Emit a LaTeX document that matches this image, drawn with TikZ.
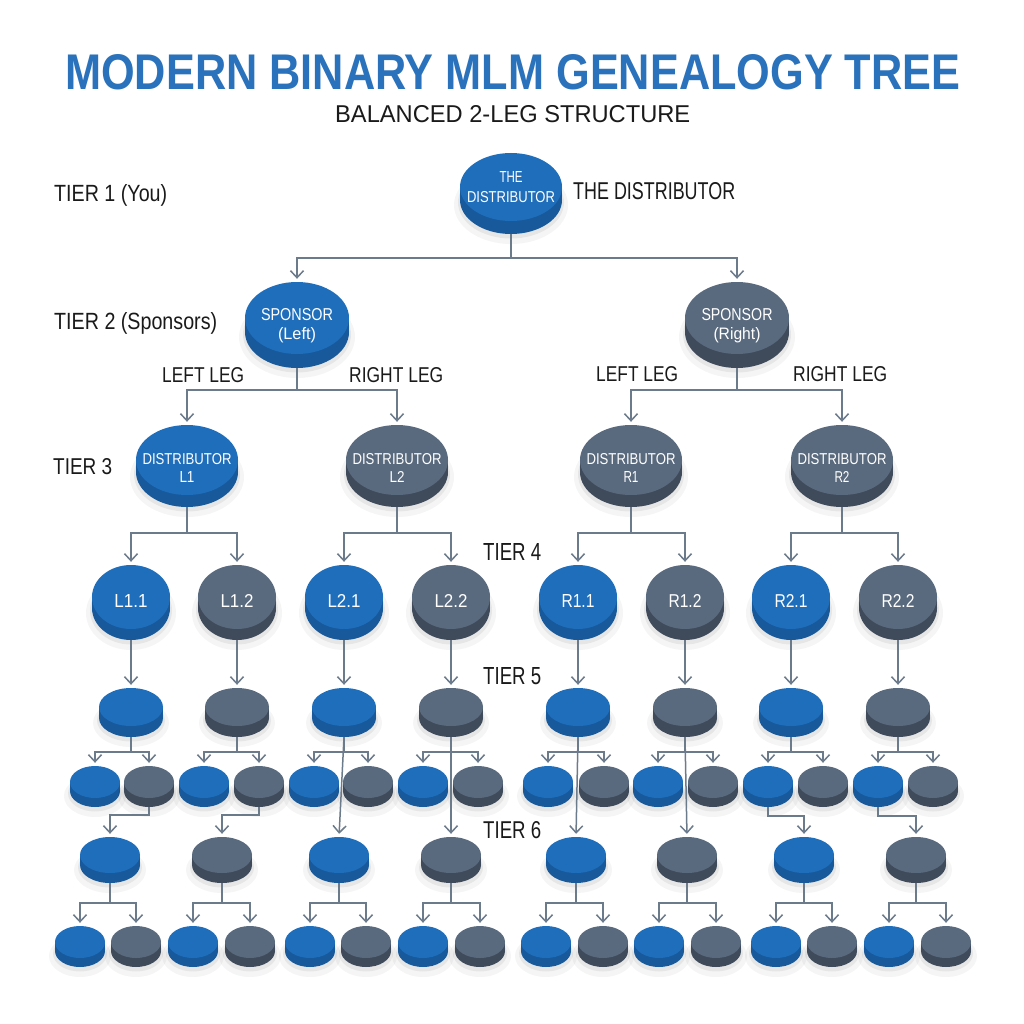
\documentclass[tikz,border=0pt]{standalone}
\usepackage{graphicx}
\usepackage{fontspec}
\setmainfont{Liberation Sans}
\usetikzlibrary{arrows.meta,shapes.geometric}
\definecolor{bT}{HTML}{1F6EBC}
\definecolor{bS}{HTML}{17599B}
\definecolor{gT}{HTML}{5A6A7E}
\definecolor{gS}{HTML}{3F4B5B}
\definecolor{titleC}{HTML}{2A72BB}
\definecolor{inkC}{HTML}{1A1A1A}
\definecolor{lineC}{HTML}{6C7B8B}
\newcommand\fitt[3]{\resizebox{#1pt}{#2pt}{#3}}
\newcommand\disc[7]{%
  \colorlet{curS}{#7S}\colorlet{curT}{#7T}%
  \fill[black,opacity=0.04] (#2,#3+#6+5) ellipse ({#4+6} and {#5+5});
  \fill[black,opacity=0.06] (#2,#3+#6+2.5) ellipse ({#4+2} and {#5+2});
  \fill[curS] (#2-#4,#3) rectangle (#2+#4,#3+#6);
  \fill[curS] (#2,#3+#6) ellipse ({#4} and {#5});
  \node[discnode,fill=curT,minimum width={2*#4pt},minimum height={2*#5pt}] (#1) at (#2,#3) {};
  \coordinate (#1-b) at (#2,#3+#5+#6);
}
\newcommand\fork[4]{%
  \draw[conn] (#1-b) -- (#1-b |- 0,#2) -| (#3.north);
  \draw[conn] (#1-b) -- (#1-b |- 0,#2) -| (#4.north);
}
\tikzset{
  discnode/.style={ellipse,inner sep=0pt,draw=none},
  conn/.style={draw=lineC,line width=1.5pt,-{Straight Barb[length=7pt,width=13pt]},shorten >=3pt},
  wtext/.style={text=white,inner sep=0pt,align=center},
  ktext/.style={text=inkC,inner sep=0pt,anchor=base west},
}
\begin{document}
\begin{tikzpicture}[x=1pt,y=-1pt]
\useasboundingbox (0,0) rectangle (1024,1024);
\fill[white] (0,0) rectangle (1024,1024);

% titles
\node[ktext,text=titleC] (title) at (65,90) {\fitt{895}{35}{\bfseries MODERN BINARY MLM GENEALOGY TREE}};
\node[ktext] (subtitle) at (335,123) {\fitt{355}{17}{BALANCED 2-LEG STRUCTURE}};

% tier labels
\node[ktext] (lab1) at (54,202) {\fitt{113}{17}{TIER 1 (You)}};
\node[ktext] (lab2) at (54,329) {\fitt{163}{17}{TIER 2 (Sponsors)}};
\node[ktext] (lab3) at (53,474) {\fitt{59}{16}{TIER 3}};
\node[ktext] (lab4) at (483,560) {\fitt{58}{17}{TIER 4}};
\node[ktext] (lab5) at (483,684) {\fitt{58}{17}{TIER 5}};
\node[ktext] (lab6) at (483,838) {\fitt{58}{17}{TIER 6}};
\node[ktext] (labd) at (573,200) {\fitt{162}{17}{THE DISTRIBUTOR}};
\node[ktext] (ll1) at (162,382) {\fitt{82}{15}{LEFT LEG}};
\node[ktext] (rl1) at (349,382) {\fitt{94}{15}{RIGHT LEG}};
\node[ktext] (ll2) at (596,381) {\fitt{82}{15}{LEFT LEG}};
\node[ktext] (rl2) at (793,381) {\fitt{94}{15}{RIGHT LEG}};

% tier 1
\disc{t1}{511}{187}{51}{34}{13}{b}
\node[wtext,font=\fontsize{10pt}{20pt}\selectfont] (t1-t) at (511,187.5) {\fitt{23}{11}{THE}\\\fitt{88}{11}{DISTRIBUTOR}};

% tier 2
\disc{t2l}{297}{318}{52}{36}{14}{b}
\node[wtext,font=\fontsize{10pt}{19pt}\selectfont] (t2l-t) at (297,326) {\fitt{72}{12}{SPONSOR}\\\fitt{38}{12}{(Left)}};
\disc{t2r}{737}{318}{52}{36}{14}{g}
\node[wtext,font=\fontsize{10pt}{19pt}\selectfont] (t2r-t) at (737,326) {\fitt{71}{12}{SPONSOR}\\\fitt{47}{12}{(Right)}};

% tier 3
\foreach \n/\x/\c/\t in {a/187/b/L1, b/397/g/L2, c/631/g/R1, d/842/g/R2}{
  \disc{t3\n}{\x}{460}{51}{35}{12}{\c}
  \node[wtext,font=\fontsize{10pt}{18pt}\selectfont] (t3\n-t) at (\x,467.5) {\fitt{89}{11}{DISTRIBUTOR}\\\fitt{15}{11}{\t}};
}

% tier 4
\foreach \n/\x/\c/\t in {a/131/b/L1.1, b/237/g/L1.2, c/344/b/L2.1, d/451/g/L2.2, e/578/b/R1.1, f/685/g/R1.2, g/791/b/R2.1, h/898/g/R2.2}{
  \disc{t4\n}{\x}{597}{39}{32}{11}{\c}
  \node[wtext,anchor=base] (t4\n-t) at (\x,607) {\fitt{33}{13}{\t}};
}

% tier 5
\foreach \n/\x/\c in {a/131/b, b/237/g, c/344/b, d/451/g, e/578/b, f/685/g, g/791/b, h/898/g}{
  \disc{t5\n}{\x}{707}{32}{19}{11}{\c}
}

% tier 5 children (pairs)
\foreach \i/\x/\c in {1/95/b, 2/149/g, 3/204/b, 4/259/g, 5/314/b, 6/368/g, 7/423/b, 8/478/g, 9/548/b, 10/604/g, 11/658/b, 12/713/g, 13/768/b, 14/823/g, 15/878/b, 16/933/g}{
  \disc{p\i}{\x}{782}{25}{16}{9}{\c}
}

% tier 6
\foreach \n/\x/\c in {a/110/b, b/222/g, c/339/b, d/451/g, e/576/b, f/687/g, g/804/b, h/916/g}{
  \disc{t6\n}{\x}{855}{30}{18}{10}{\c}
}

% tier 6 children
\foreach \i/\x/\c in {1/80/b, 2/136/g, 3/193/b, 4/250/g, 5/310/b, 6/366/g, 7/423/b, 8/480/g, 9/546/b, 10/603/g, 11/659/b, 12/716/g, 13/776/b, 14/832/g, 15/889/b, 16/946/g}{
  \disc{q\i}{\x}{942}{25}{16}{9}{\c}
}

% connectors
\fork{t1}{258}{t2l}{t2r}
\fork{t2l}{390}{t3a}{t3b}
\fork{t2r}{390}{t3c}{t3d}
\fork{t3a}{533}{t4a}{t4b}
\fork{t3b}{533}{t4c}{t4d}
\fork{t3c}{533}{t4e}{t4f}
\fork{t3d}{533}{t4g}{t4h}
\foreach \n in {a,b,c,d,e,f,g,h}{ \draw[conn] (t4\n-b) -- (t5\n.north); }
\foreach \n/\i/\j in {a/1/2, b/3/4, c/5/6, d/7/8, e/9/10, f/11/12, g/13/14, h/15/16}{
  \fork{t5\n}{752}{p\i}{p\j}
}
\draw[conn] (p2-b) -- (p2-b |- 0,815) -| (t6a.north);
\draw[conn] (p4-b) -- (p4-b |- 0,815) -| (t6b.north);
\draw[conn] (t5c-b) -- (t6c.north);
\draw[conn] (t5d-b) -- (t6d.north);
\draw[conn] (t5e-b) -- (t6e.north);
\draw[conn] (t5f-b) -- (t6f.north);
\draw[conn] (p13-b) -- (p13-b |- 0,816) -| (t6g.north);
\draw[conn] (p15-b) -- (p15-b |- 0,816) -| (t6h.north);
\foreach \n/\i/\j in {a/1/2, b/3/4, c/5/6, d/7/8, e/9/10, f/11/12, g/13/14, h/15/16}{
  \fork{t6\n}{903}{q\i}{q\j}
}
\end{tikzpicture}
\end{document}
